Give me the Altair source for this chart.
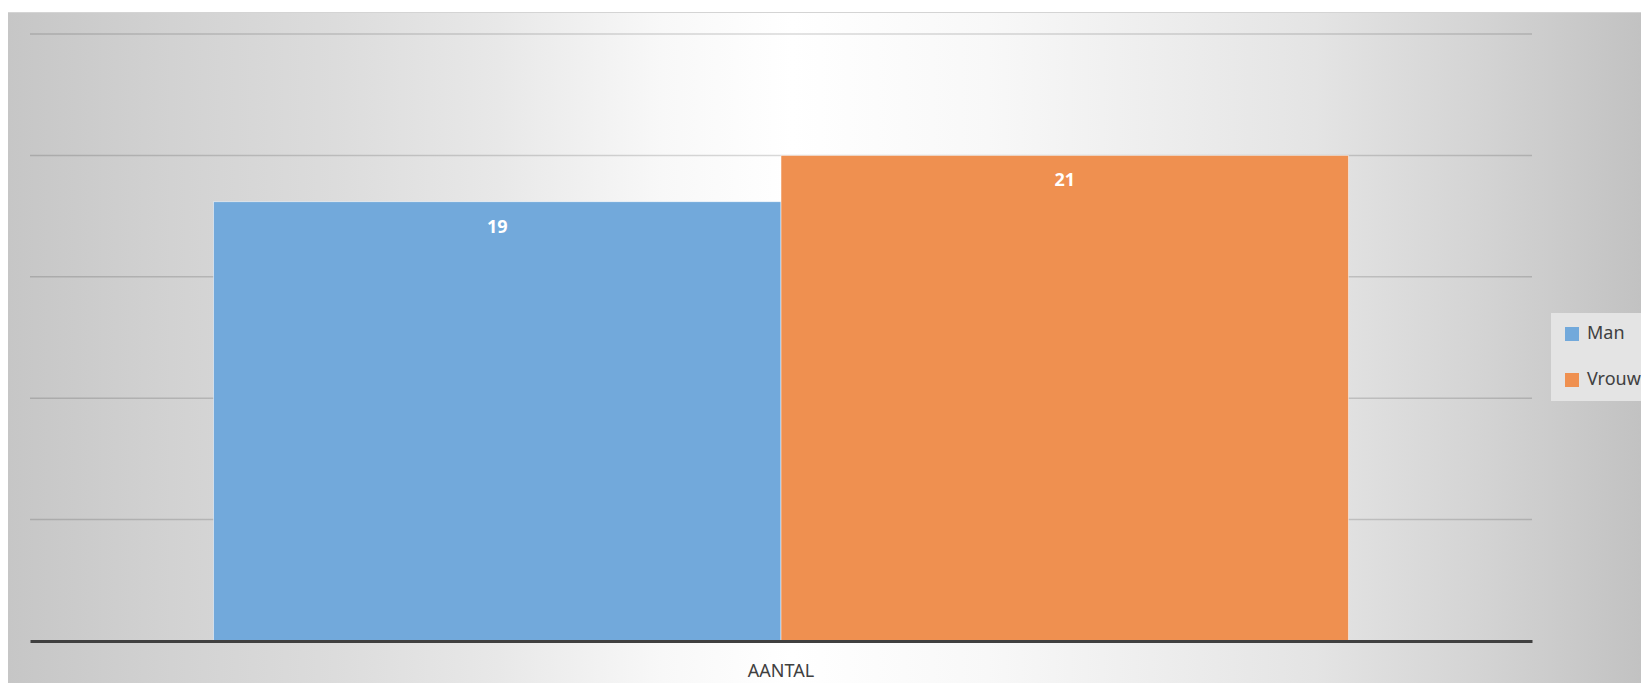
import altair as alt
import pandas as pd

# ---- data ----
categories = ["AANTAL"]
series = ["Man", "Vrouw"]
values = [19, 21]
grid_values = [5.25, 10.5, 15.75, 21, 26.25]
y_max = 26.25

colors = ["#72a9db", "#ef9050"]
FONT = "Noto Sans"

W, H = 1502, 607
PAD_L, PAD_T, PAD_R, PAD_B = 22, 26, 109, 42

df = pd.DataFrame({"cat": [categories[0]] * len(series), "series": series, "value": values})
grid_df = pd.DataFrame({"g": grid_values})
bg_df = pd.DataFrame({"k": [0]})

yscale = alt.Scale(domain=[0, y_max], nice=False, zero=True)

bg_gradient = {
    "gradient": "linear",
    "x1": 0, "y1": 0, "x2": 1, "y2": 0,
    "stops": [
        {"offset": 0.0, "color": "#c6c6c6"},
        {"offset": 0.1, "color": "#d2d2d2"},
        {"offset": 0.2, "color": "#dcdcdc"},
        {"offset": 0.3, "color": "#e8e8e8"},
        {"offset": 0.4, "color": "#f8f8f8"},
        {"offset": 0.48, "color": "#ffffff"},
        {"offset": 0.6, "color": "#f8f8f8"},
        {"offset": 0.7, "color": "#eeeeee"},
        {"offset": 0.8, "color": "#e4e4e4"},
        {"offset": 0.9, "color": "#d4d4d4"},
        {"offset": 1.0, "color": "#c2c2c2"},
    ],
}

bg = alt.Chart(bg_df).mark_rect(fill=bg_gradient).encode(
    x=alt.value(-PAD_L), x2=alt.value(W + PAD_R),
    y=alt.value(-PAD_T + 4), y2=alt.value(H + PAD_B),
)

top_border = alt.Chart(bg_df).mark_rule(color="#d4d4d4", strokeWidth=1).encode(
    x=alt.value(-PAD_L), x2=alt.value(W + PAD_R), y=alt.value(-PAD_T + 4.5),
)

grid = alt.Chart(grid_df).mark_rule(color="#000000", strokeOpacity=0.15, strokeWidth=1.5).encode(
    y=alt.Y("g:Q", scale=yscale, axis=None),
    x=alt.value(0), x2=alt.value(W),
)

x_enc = alt.X(
    "cat:N",
    title=None,
    scale=alt.Scale(paddingInner=0, paddingOuter=0.1617),
    axis=alt.Axis(
        labelAngle=0, ticks=False, grid=False,
        domainColor="#404040", domainWidth=3,
        labelFont=FONT, labelFontSize=18, labelColor="#404040", labelPadding=21,
        zindex=1,
    ),
)
xoff_enc = alt.XOffset("series:N", scale=alt.Scale(paddingInner=0, paddingOuter=0))

bars = alt.Chart(df).mark_bar(stroke="white", strokeOpacity=0.5, strokeWidth=1).encode(
    x=x_enc,
    xOffset=xoff_enc,
    y=alt.Y("value:Q", scale=yscale, axis=None),
    color=alt.Color(
        "series:N",
        scale=alt.Scale(domain=series, range=colors),
        legend=alt.Legend(
            title=None, orient="none", legendX=1521, legendY=279,
            fillColor="#e4e4e4", padding=12,
            symbolType="square", symbolSize=196, symbolStrokeWidth=0, symbolOpacity=1,
            labelFont=FONT, labelFontSize=18, labelColor="#404040",
            rowPadding=28, labelOffset=6, zindex=1,
        ),
    ),
)

labels = alt.Chart(df).mark_text(
    color="white", fontWeight="bold", fontSize=18, font=FONT, dy=26, baseline="middle"
).encode(
    x=x_enc,
    xOffset=xoff_enc,
    y=alt.Y("value:Q", scale=yscale, axis=None),
    text=alt.Text("value:Q"),
)

chart = alt.layer(bg, top_border, grid, bars, labels).properties(
    width=W, height=H,
    autosize=alt.AutoSizeParams(type="none"),
    padding={"left": PAD_L, "top": PAD_T, "right": PAD_R, "bottom": PAD_B},
    background="white",
).configure_view(stroke=None)

chart.save("out.html", embed_options={"renderer": "svg", "actions": False})
